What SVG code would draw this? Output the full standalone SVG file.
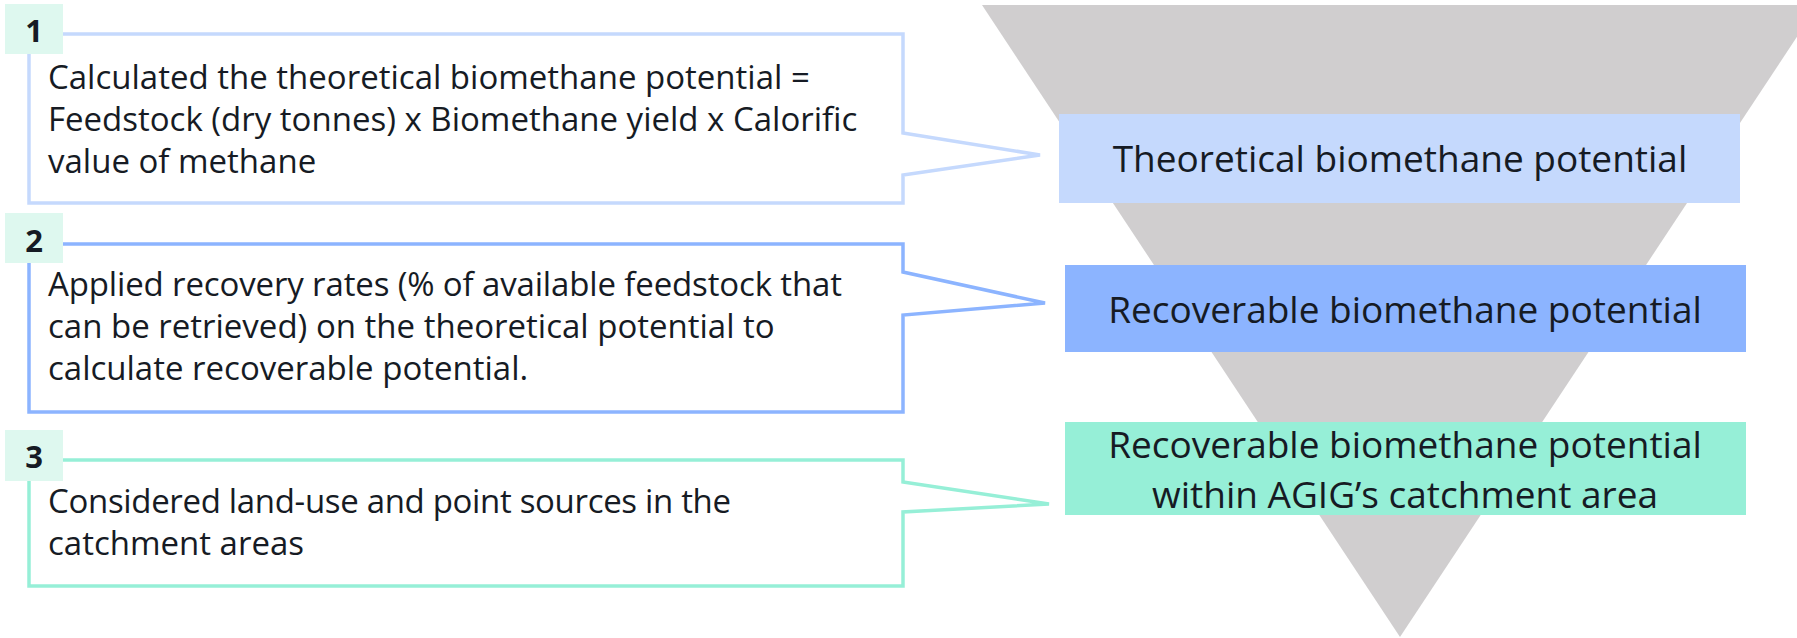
<svg xmlns="http://www.w3.org/2000/svg" width="1797" height="638" viewBox="0 0 1797 638">
  <style>
    .body { font-family: "Open Sans", "Liberation Sans", sans-serif; font-size: 33px; fill: #161b24; }
    .lvl { font-family: "Open Sans", "Liberation Sans", sans-serif; font-size: 37px; fill: #161b24; text-anchor: middle; }
    .num { font-family: "Open Sans", "Liberation Sans", sans-serif; font-size: 31px; font-weight: bold; fill: #161b24; text-anchor: middle; }
    .badge { fill: #def8ef; }
    .callout { fill: #ffffff; stroke-width: 3.5; stroke-linejoin: miter; }
  </style>
  <rect width="1797" height="638" fill="#ffffff"/>

  <g id="funnel">
    <polygon points="982,5 1818,5 1400,637" fill="#d0cecf"/>
  </g>

  <g id="level-theoretical">
    <rect x="1059" y="114" width="681" height="89" fill="#c5d9fd"/>
    <text class="lvl" x="1400" y="172">Theoretical biomethane potential</text>
  </g>
  <g id="level-recoverable">
    <rect x="1065" y="265" width="681" height="87" fill="#8cb4ff"/>
    <text class="lvl" x="1405" y="323">Recoverable biomethane potential</text>
  </g>
  <g id="level-catchment">
    <rect x="1065" y="422" width="681" height="93" fill="#96efd7"/>
    <text class="lvl" x="1405" y="458">Recoverable biomethane potential</text>
    <text class="lvl" x="1405" y="508">within AGIG’s catchment area</text>
  </g>

  <g id="step-1">
    <path class="callout" stroke="#c5d9fd" d="M29,34 H903 V133 L1040,155 L903,175 V203 H29 Z"/>
    <rect class="badge" x="5" y="4" width="58" height="50"/>
    <text class="num" x="34" y="42">1</text>
    <text class="body" x="48" y="89">Calculated the theoretical biomethane potential =</text>
    <text class="body" x="48" y="131">Feedstock (dry tonnes) x Biomethane yield x Calorific</text>
    <text class="body" x="48" y="173">value of methane</text>
  </g>

  <g id="step-2">
    <path class="callout" stroke="#8cb4ff" d="M29,244 H903 V272 L1045,303 L903,315 V412 H29 Z"/>
    <rect class="badge" x="5" y="213" width="58" height="50"/>
    <text class="num" x="34" y="252">2</text>
    <text class="body" x="48" y="296" textLength="794">Applied recovery rates (% of available feedstock that</text>
    <text class="body" x="48" y="338">can be retrieved) on the theoretical potential to</text>
    <text class="body" x="48" y="380">calculate recoverable potential.</text>
  </g>

  <g id="step-3">
    <path class="callout" stroke="#96efd7" d="M29,460 H903 V482 L1049,504 L903,512 V586 H29 Z"/>
    <rect class="badge" x="5" y="430" width="58" height="51"/>
    <text class="num" x="34" y="468">3</text>
    <text class="body" x="48" y="513" textLength="683">Considered land-use and point sources in the</text>
    <text class="body" x="48" y="555">catchment areas</text>
  </g>

  <g id="connectors"/>
</svg>
